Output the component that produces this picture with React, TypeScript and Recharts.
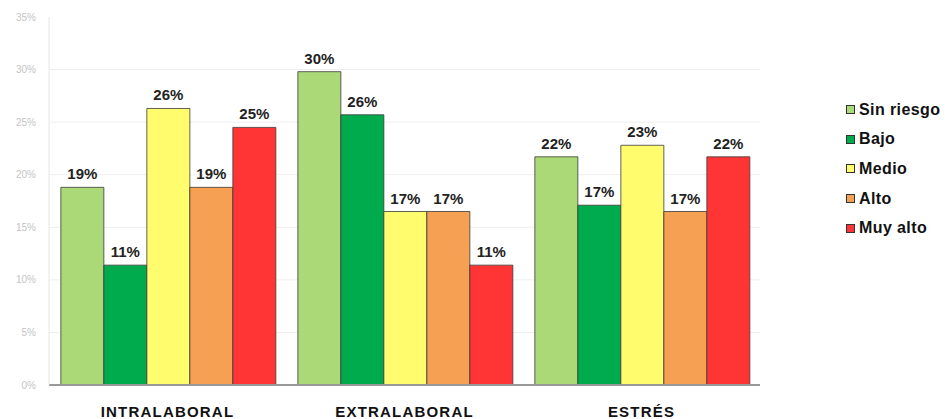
import React from 'react';
import { BarChart, Bar, XAxis, YAxis, CartesianGrid, Legend, LabelList } from 'recharts';

const categories = ['INTRALABORAL', 'EXTRALABORAL', 'ESTRÉS'];
const sinRiesgo = [18.8, 29.8, 21.7];
const bajo = [11.4, 25.7, 17.1];
const medio = [26.3, 16.5, 22.8];
const alto = [18.8, 16.5, 16.5];
const muyAlto = [24.5, 11.4, 21.7];
const yTicks = [0, 5, 10, 15, 20, 25, 30, 35];
const yMax = 35;

const series = [
  { key: 'sinRiesgo', name: 'Sin riesgo', color: '#acd978', values: sinRiesgo },
  { key: 'bajo', name: 'Bajo', color: '#00ab4e', values: bajo },
  { key: 'medio', name: 'Medio', color: '#fffc6e', values: medio },
  { key: 'alto', name: 'Alto', color: '#f5a053', values: alto },
  { key: 'muyAlto', name: 'Muy alto', color: '#ff3535', values: muyAlto },
];

const data = categories.map((name, i) => {
  const row: Record<string, string | number> = { name };
  series.forEach((s) => {
    row[s.key] = s.values[i];
  });
  return row;
});

const font = '"Liberation Sans", Arial, sans-serif';

const LegendContent = () => (
  <div style={{ fontFamily: font }}>
    {series.map((s) => (
      <div key={s.key} style={{ display: 'flex', alignItems: 'center', height: 29.6 }}>
        <span
          style={{
            width: 7,
            height: 7,
            background: s.color,
            border: '1px solid #333',
            marginRight: 4,
          }}
        />
        <span style={{ fontSize: 16, fontWeight: 'bold', color: '#111', letterSpacing: 0.4 }}>{s.name}</span>
      </div>
    ))}
  </div>
);

// grid lines for every tick except the top one
const gridLines = ({ offset }: any) =>
  yTicks
    .filter((t) => t < yMax)
    .map((t) => offset.top + offset.height * (1 - t / yMax));

export default function App() {
  return (
    <div style={{ position: 'absolute', left: 0, top: 0, width: 945, height: 419, background: '#fff' }}>
      <BarChart
        width={945}
        height={419}
        data={data}
        margin={{ top: 17, right: 185, bottom: 0, left: 0 }}
        barCategoryGap="5%"
        barGap={0}
      >
        <CartesianGrid vertical={false} stroke="#eeeeee" horizontalCoordinatesGenerator={gridLines} />
        <XAxis
          dataKey="name"
          height={34}
          axisLine={{ stroke: '#999', strokeWidth: 2 }}
          tickLine={false}
          tickMargin={15}
          tick={{ fontSize: 15, fontWeight: 'bold', fill: '#111', fontFamily: font, letterSpacing: 1.2 }}
        />
        <YAxis
          width={49}
          domain={[0, yMax]}
          ticks={yTicks}
          tickFormatter={(v) => `${v}%`}
          axisLine={{ stroke: '#e6e6e6' }}
          tickLine={false}
          tickSize={0}
          tickMargin={13}
          tick={{ fontSize: 10, fill: '#c4c4c4', fontFamily: font }}
        />
        <Legend
          layout="vertical"
          align="center"
          verticalAlign="middle"
          wrapperStyle={{ left: 846, top: 95, width: 99 }}
          content={<LegendContent />}
        />
        {series.map((s) => (
          <Bar
            key={s.key}
            dataKey={s.key}
            name={s.name}
            fill={s.color}
            stroke="#3a3a3a"
            strokeWidth={0.8}
            isAnimationActive={false}
          >
            <LabelList
              dataKey={s.key}
              position="top"
              offset={8}
              formatter={(v: number) => `${Math.round(v)}%`}
              style={{ fontSize: 15, fontWeight: 'bold', fill: '#222', fontFamily: font }}
            />
          </Bar>
        ))}
      </BarChart>
    </div>
  );
}
